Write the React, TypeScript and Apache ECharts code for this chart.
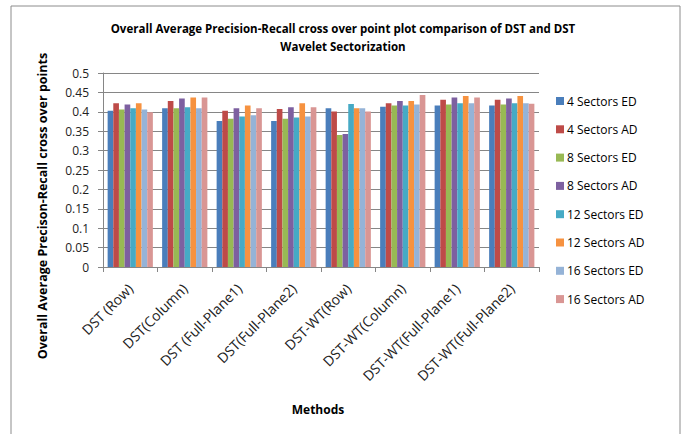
import React, { useEffect, useRef } from "react";
import * as echarts from "echarts";

const categories = [
  "DST (Row)",
  "DST(Column)",
  "DST (Full-Plane1)",
  "DST(Full-Plane2)",
  "DST-WT(Row)",
  "DST-WT(Column)",
  "DST-WT(Full-Plane1)",
  "DST-WT(Full-Plane2)",
];

const seriesNames = [
  "4 Sectors ED",
  "4 Sectors AD",
  "8 Sectors ED",
  "8 Sectors AD",
  "12 Sectors ED",
  "12 Sectors AD",
  "16 Sectors ED",
  "16 Sectors AD",
];

const s4ED = [0.403, 0.409, 0.376, 0.376, 0.409, 0.413, 0.416, 0.416];
const s4AD = [0.422, 0.428, 0.403, 0.407, 0.401, 0.422, 0.431, 0.431];
const s8ED = [0.406, 0.409, 0.382, 0.382, 0.340, 0.416, 0.419, 0.419];
const s8AD = [0.419, 0.434, 0.409, 0.412, 0.343, 0.428, 0.437, 0.434];
const s12ED = [0.409, 0.412, 0.388, 0.385, 0.42, 0.416, 0.422, 0.422];
const s12AD = [0.422, 0.437, 0.416, 0.422, 0.409, 0.428, 0.441, 0.441];
const s16ED = [0.406, 0.409, 0.391, 0.388, 0.409, 0.419, 0.422, 0.422];
const s16AD = [0.399, 0.437, 0.409, 0.412, 0.401, 0.443, 0.437, 0.421];

const seriesValues = [s4ED, s4AD, s8ED, s8AD, s12ED, s12AD, s16ED, s16AD];

const colors = [
  "#4A7EBB",
  "#BE4B48",
  "#98B954",
  "#7D60A0",
  "#46AAC5",
  "#F69240",
  "#95B3D7",
  "#D99694",
];

const yTicks = { min: 0, max: 0.5, interval: 0.05 };

const FONT = "'Open Sans', 'Noto Sans', sans-serif";

export default function App() {
  const ref = useRef<HTMLDivElement>(null);

  useEffect(() => {
    if (!ref.current) return;
    const chart = echarts.init(ref.current, undefined, { renderer: "svg" });
    chart.setOption({
      animation: false,
      backgroundColor: "#ffffff",
      color: colors,
      title: {
        text:
          "Overall Average Precision-Recall cross over point plot comparison of DST and DST\nWavelet Sectorization",
        left: "center",
        top: 14,
        textStyle: {
          fontFamily: FONT,
          fontSize: 11.5,
          fontWeight: "bold",
          color: "#000",
          lineHeight: 18,
        },
      },
      legend: {
        orient: "vertical",
        left: 551,
        top: 90,
        itemWidth: 8,
        itemHeight: 8,
        itemGap: 16.3,
        icon: "rect",
        data: seriesNames,
        textStyle: { fontFamily: FONT, fontSize: 12, color: "#000", padding: [0, 0, 0, -2] },
      },
      grid: { left: 103, right: 147, top: 73, bottom: 167, containLabel: false },
      xAxis: {
        type: "category",
        data: categories,
        axisLine: { lineStyle: { color: "#868686" } },
        axisTick: { show: true, alignWithLabel: false, length: 5, lineStyle: { color: "#868686" } },
        axisLabel: {
          rotate: 45,
          interval: 0,
          fontFamily: FONT,
          fontSize: 14,
          color: "#222",
          margin: 19,
        },
      },
      yAxis: {
        type: "value",
        min: yTicks.min,
        max: yTicks.max,
        interval: yTicks.interval,
        axisLine: { show: true, lineStyle: { color: "#868686" } },
        axisTick: { show: true, length: 5, lineStyle: { color: "#868686" } },
        axisLabel: {
          fontFamily: FONT,
          fontSize: 12,
          color: "#222",
          margin: 14,
          formatter: (v: number) => String(Math.round(v * 100) / 100),
        },
        splitLine: { lineStyle: { color: "#868686" } },
      },
      graphic: [
        {
          type: "rect",
          shape: { x: 11, y: 6, width: 669, height: 440 },
          style: { fill: "none", stroke: "#8c8c8c", lineWidth: 1 },
          silent: true,
        },
        {
          type: "text",
          x: 42,
          y: 206,
          rotation: Math.PI / 2,
          style: {
            text: "Overall Average Precison-Recall cross over points",
            fontFamily: FONT,
            fontSize: 12.5,
            fontWeight: "bold",
            fill: "#000",
            align: "center",
            verticalAlign: "middle",
          },
        },
        {
          type: "text",
          x: 318,
          y: 409,
          style: {
            text: "Methods",
            fontFamily: FONT,
            fontSize: 12,
            fontWeight: "bold",
            fill: "#000",
            align: "center",
            verticalAlign: "middle",
          },
        },
      ],
      series: seriesNames.map((name, i) => ({
        name,
        type: "bar",
        data: seriesValues[i],
        barGap: "0%",
        barCategoryGap: "17%",
        itemStyle: { color: colors[i] },
      })),
    });
    return () => chart.dispose();
  }, []);

  return (
    <div
      ref={ref}
      style={{ position: "absolute", left: 0, top: 0, width: 686, height: 434 }}
    />
  );
}
